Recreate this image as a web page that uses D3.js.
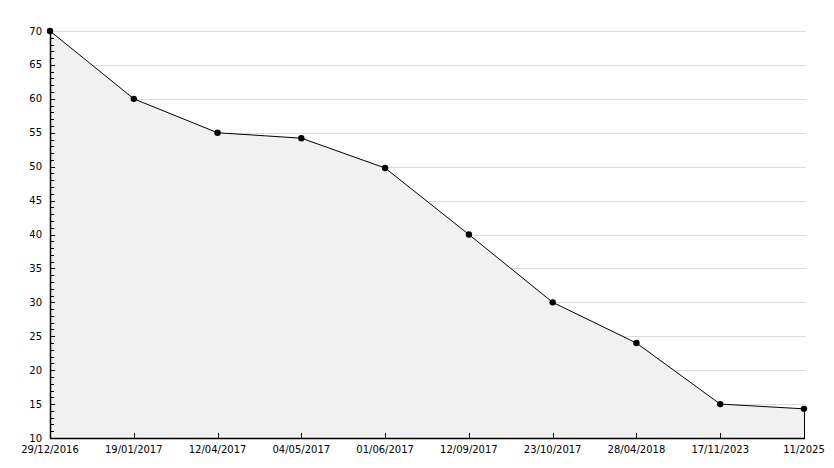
<!DOCTYPE html>
<html>
<head>
<meta charset="utf-8">
<script src="https://cdn.jsdelivr.net/npm/d3@7"></script>
<style>
  body { margin: 0; background: #fff; }
  svg text { font-family: "DejaVu Sans", sans-serif; font-size: 10px; fill: #000; }
</style>
</head>
<body>
<div id="chart_area"></div>
<script>
var dates = ["29/12/2016", "19/01/2017", "12/04/2017", "04/05/2017", "01/06/2017",
             "12/09/2017", "23/10/2017", "28/04/2018", "17/11/2023", "11/2025"];
var values = [70, 60, 55, 54.2, 49.8, 40, 30, 24, 15, 14.3];
var yTicks = [10, 15, 20, 25, 30, 35, 40, 45, 50, 55, 60, 65, 70];

var width = 834, height = 468;
var plotLeft = 50, plotRight = 804, plotTop = 31, plotBottom = 438;

var svg = d3.select("#chart_area")
    .append("svg")
    .attr("width", width)
    .attr("height", height);

var x = d3.scalePoint()
    .domain(d3.range(dates.length))
    .range([plotLeft, plotRight]);

var y = d3.scaleLinear()
    .domain([10, 70])
    .range([plotBottom, plotTop]);

// grid lines
svg.append("g")
    .selectAll("line")
    .data(yTicks.slice(1))
    .enter()
    .append("line")
    .attr("x1", plotLeft)
    .attr("x2", plotRight + 2)
    .attr("y1", function (d) { return Math.round(y(d)) + 0.5; })
    .attr("y2", function (d) { return Math.round(y(d)) + 0.5; })
    .attr("stroke", "#dcdcdc");

// area under line
var area = d3.area()
    .x(function (d, i) { return x(i); })
    .y0(plotBottom)
    .y1(function (d) { return y(d); });

svg.append("path")
    .datum(values)
    .attr("d", area)
    .attr("fill", "#f1f1f1");

var line = d3.line()
    .x(function (d, i) { return x(i); })
    .y(function (d) { return y(d); });

svg.append("path")
    .datum(values)
    .attr("d", line)
    .attr("fill", "none")
    .attr("stroke", "#000")
    .attr("stroke-width", 1);

// right edge of area
svg.append("line")
    .attr("x1", x(values.length - 1) + 0.5)
    .attr("x2", x(values.length - 1) + 0.5)
    .attr("y1", y(values[values.length - 1]))
    .attr("y2", plotBottom)
    .attr("stroke", "#000");

// y axis with minor ticks
var yAxis = svg.append("g");
yAxis.append("line")
    .attr("x1", plotLeft + 0.5).attr("x2", plotLeft + 0.5)
    .attr("y1", plotTop).attr("y2", plotBottom)
    .attr("stroke", "#000").attr("stroke-width", 1.5);

yAxis.selectAll("line.minor")
    .data(d3.range(11, 70))
    .enter()
    .append("line")
    .attr("class", "minor")
    .attr("x1", plotLeft)
    .attr("x2", function (d) { return d % 5 === 0 ? plotLeft + 5 : plotLeft + 4; })
    .attr("y1", function (d) { return Math.round(y(d)) + 0.5; })
    .attr("y2", function (d) { return Math.round(y(d)) + 0.5; })
    .attr("stroke", "#000");

yAxis.selectAll("text")
    .data(yTicks)
    .enter()
    .append("text")
    .attr("x", plotLeft - 8)
    .attr("y", function (d) { return y(d); })
    .attr("dy", "0.35em")
    .attr("text-anchor", "end")
    .text(function (d) { return d; });

// x axis
var xAxis = svg.append("g");
xAxis.append("line")
    .attr("x1", plotLeft).attr("x2", plotRight + 1)
    .attr("y1", plotBottom + 0.5).attr("y2", plotBottom + 0.5)
    .attr("stroke", "#000").attr("stroke-width", 1.5);

xAxis.selectAll("line.tick")
    .data(d3.range(1, dates.length - 1))
    .enter()
    .append("line")
    .attr("class", "tick")
    .attr("x1", function (d) { return Math.round(x(d)) + 0.5; })
    .attr("x2", function (d) { return Math.round(x(d)) + 0.5; })
    .attr("y1", plotBottom)
    .attr("y2", plotBottom - 5)
    .attr("stroke", "#000");

xAxis.selectAll("text")
    .data(dates)
    .enter()
    .append("text")
    .attr("x", function (d, i) { return x(i); })
    .attr("y", plotBottom + 15)
    .attr("text-anchor", "middle")
    .text(function (d) { return d; });

// markers
svg.append("g")
    .selectAll("circle")
    .data(values)
    .enter()
    .append("circle")
    .attr("cx", function (d, i) { return x(i); })
    .attr("cy", function (d) { return y(d); })
    .attr("r", 3.2)
    .attr("fill", "#000");
</script>
</body>
</html>
